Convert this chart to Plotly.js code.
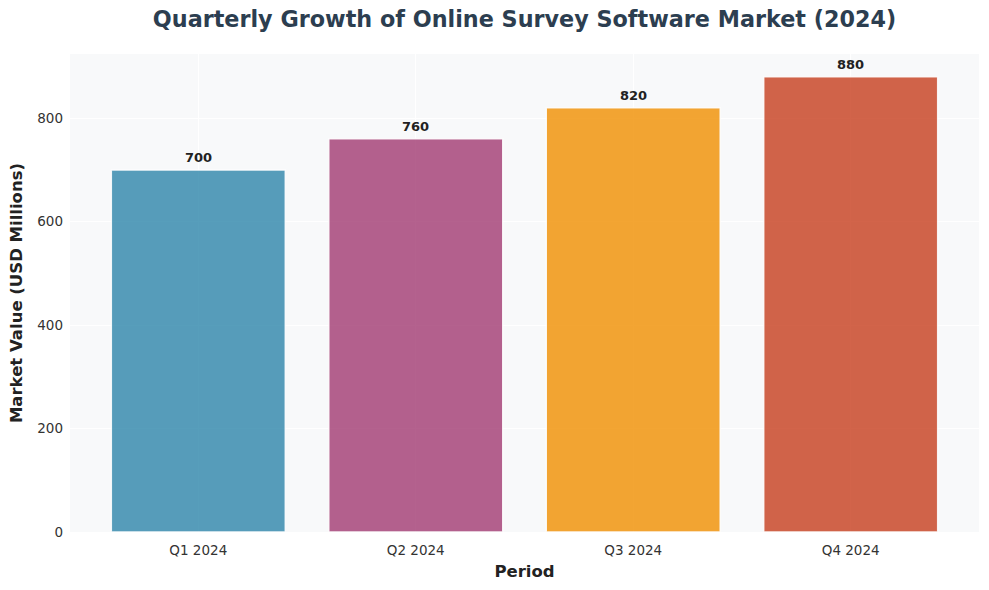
<!DOCTYPE html>
<html>
<head>
<meta charset="utf-8">
<script src="https://cdn.plot.ly/plotly-3.0.1.min.js"></script>
<style>html,body{margin:0;padding:0;background:#fff;}#chart{width:989px;height:590px;}</style>
</head>
<body>
<div id="chart"></div>
<script>
const periods = ["Q1 2024", "Q2 2024", "Q3 2024", "Q4 2024"];
const marketValues = [700, 760, 820, 880];
const barColors = ["#2E86AB", "#A23B72", "#F18F01", "#C73E1D"];
const yTicks = [0, 200, 400, 600, 800];

const trace = {
  type: "bar",
  x: periods,
  y: marketValues,
  width: 0.8,
  marker: { color: barColors, opacity: 0.8, line: { color: "rgba(255,255,255,0.9)", width: 1.5 } },
  hoverinfo: "none"
};

const labels = periods.map((p, i) => ({
  x: p, y: marketValues[i], xref: "x", yref: "y",
  text: "<b>" + marketValues[i] + "</b>",
  showarrow: false, yanchor: "bottom", yshift: 3,
  font: { family: "DejaVu Sans", size: 13, color: "#222" }
}));

const layout = {
  width: 989, height: 590,
  margin: { l: 70, r: 10, t: 54, b: 58 },
  paper_bgcolor: "#ffffff",
  plot_bgcolor: "#f8f9fa",
  font: { family: "DejaVu Sans", color: "#333" },
  title: {
    text: "<b>Quarterly Growth of Online Survey Software Market (2024)</b>",
    font: { family: "DejaVu Sans", size: 22.3, color: "#2c3e50" },
    xref: "paper", x: 0.5, xanchor: "center", y: 0.967, yanchor: "middle"
  },
  annotations: labels,
  xaxis: {
    type: "category",
    range: [-0.59, 3.59],
    showgrid: true, gridcolor: "#ffffff", gridwidth: 1,
    ticks: "", ticklabelstandoff: 8,
    tickfont: { family: "DejaVu Sans", size: 13.5, color: "#333" },
    title: { text: "<b>Period</b>", font: { family: "DejaVu Sans", size: 16.5, color: "#222" }, standoff: 8 },
    zeroline: false, showline: false
  },
  yaxis: {
    range: [0, 924],
    tickvals: yTicks,
    showgrid: true, gridcolor: "#ffffff", gridwidth: 1,
    ticks: "", ticklabelstandoff: 6,
    tickfont: { family: "DejaVu Sans", size: 13.5, color: "#333" },
    title: { text: "<b>Market Value (USD Millions)</b>", font: { family: "DejaVu Sans", size: 16.5, color: "#222" }, standoff: 10 },
    zeroline: false, showline: false
  },
  bargap: 0.2,
  showlegend: false
};

Plotly.newPlot("chart", [trace], layout, { displayModeBar: false, staticPlot: true });
</script>
</body>
</html>
